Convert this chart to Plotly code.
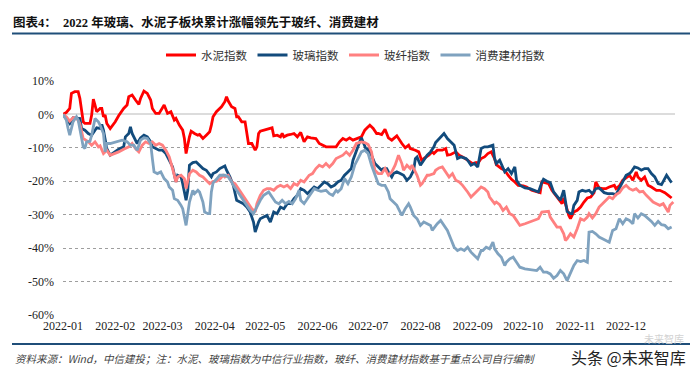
import pandas as pd
import plotly.graph_objects as go

# ---- data (day offset from 2022-01-01, cumulative change in %) ----
cement_days = [0, 2, 4, 5, 7, 9, 10, 12, 13, 16, 17, 18, 19, 20, 22, 23, 24, 25, 26, 28, 31, 33, 36, 38, 39, 41, 43, 45, 46, 48, 50, 52, 53, 55, 57, 59, 60, 62, 64, 66, 67, 69, 71, 72, 73, 75, 76, 78, 80, 81, 83, 85, 87, 88, 89,
               91, 94, 96, 97, 98, 100, 102, 103, 104, 106, 108, 109, 110, 112, 113, 114, 115, 116, 117, 119, 122, 124, 125, 127, 129, 130, 131, 133, 135, 137, 139, 141, 143, 145, 147, 150, 152, 154, 156, 159, 162, 164, 166, 168, 170, 172, 175, 177, 179, 182,
               184, 186, 187, 189, 191, 192, 193, 195, 197, 198, 201, 203, 205, 206, 209, 211, 213, 214, 217, 219, 220, 222, 225, 227, 228, 230, 233, 235, 237, 239, 241, 243, 245, 246, 248, 250, 252, 254, 256, 257, 260, 262, 264, 266, 268, 270, 273, 275,
               278, 281, 283, 284, 286, 288, 290, 291, 293, 295, 296, 297, 299, 300, 301, 303, 305, 307, 309, 311, 313, 315, 316, 318, 320, 322, 324, 327, 328, 330, 332, 334, 336, 338, 340, 341, 343, 345, 347, 349, 352, 354, 357, 359, 361]
cement_vals = [0, 0.6, 1.8, 6.3, 6.8, 6.8, 4.8, -2.2, -2.7, -2.7, -0.2, 4.6, 2.8, 0.8, 1.8, 1.8, -0.7, -0.2, -2.7, -4.2, -2.2, -0.4, 1.8, 2.8, 5.3, 5.8, 4.3, 3.0, 4.8, 7.0, 6.3, 4.3, 1.8, 0.3, 0.3, 1.8, 2.8, 0.3, 0.8, -1.7, -1.2, -3.2, -4.7, -7.2, -11.7, -6.7, -5.0, -5.7, -6.2, -6.0, -7.2, -6.2, -5.2, -3.2, -0.7,
               0.8, 2.3, 3.8, 5.3, 4.0, 2.3, 1.8, -0.7, -0.7, -2.2, -2.2, -5.7, -8.7, -8.7, -9.7, -10.7, -9.7, -5.7, -5.0, -4.7, -4.2, -4.0, -6.4, -6.2, -6.7, -5.7, -6.7, -6.2, -6.0, -5.7, -6.7, -5.4, -8.2, -6.7, -7.0, -7.2, -8.7, -9.2, -9.7, -9.7, -9.7, -8.2, -7.2, -7.7, -7.0, -7.7, -7.2, -6.7, -4.7, -3.2,
               -4.2, -5.7, -5.7, -6.0, -4.4, -5.7, -7.0, -7.7, -6.7, -6.4, -8.7, -10.0, -9.2, -10.2, -10.7, -11.2, -14.2, -13.2, -12.2, -11.2, -11.7, -10.7, -10.7, -10.2, -12.2, -12.0, -11.2, -12.2, -12.7, -13.4, -14.2, -14.7, -14.4, -14.7, -13.2, -12.7, -11.7, -11.2, -13.2, -15.0, -16.2, -16.7, -18.2, -19.4, -20.2, -21.2, -21.4, -21.7,
               -22.7, -23.0, -23.4, -20.2, -20.4, -20.7, -22.7, -23.4, -24.7, -26.2, -26.7, -25.0, -28.7, -30.2, -31.2, -29.2, -28.7, -27.7, -26.2, -25.0, -24.7, -23.4, -20.2, -22.0, -22.2, -22.2, -21.7, -21.2, -22.2, -21.4, -19.7, -19.0, -18.2, -19.7, -17.2, -18.7, -19.7, -18.7, -21.2, -21.7, -22.7, -22.7, -23.4, -24.2, -25.0]

glass_days = [0, 2, 4, 6, 8, 10, 11, 13, 15, 17, 19, 20, 22, 23, 24, 26, 28, 31, 33, 36, 37, 39, 40, 41, 43, 44, 46, 48, 50, 52, 53, 55, 57, 59, 61, 63, 65, 67, 68, 70, 71, 73, 74, 75, 77, 79, 81, 83, 85, 87, 88, 89, 91, 93,
              96, 97, 99, 101, 102, 103, 105, 107, 109, 111, 113, 114, 116, 117, 119, 121, 123, 125, 127, 129, 131, 133, 135, 137, 139, 141, 143, 145, 147, 149, 151, 153, 155, 157, 159, 161, 163, 165, 167, 169, 171, 172, 174, 176, 177, 179, 180, 181,
              183, 185, 187, 189, 190, 192, 193, 195, 196, 198, 200, 202, 204, 206, 208, 209, 210, 212, 214, 216, 218, 220, 221, 223, 226, 228, 230, 232, 233, 234, 236, 239, 240, 242, 244, 246, 248, 250, 252, 255, 256, 257, 259, 261, 262, 264, 266, 268, 269, 271,
              274, 277, 280, 282, 284, 285, 287, 289, 291, 293, 295, 297, 298, 299, 301, 302, 303, 305, 306, 308, 310, 312, 314, 316, 318, 321, 323, 326, 328, 330, 332, 334, 336, 337, 339, 341, 343, 345, 347, 349, 351, 353, 355, 357, 358, 360, 361]
glass_vals = [0, -1.2, -2.7, -1.0, -1.0, -1.2, -4.2, -4.7, -5.7, -6.2, -4.7, -4.0, -4.2, -3.0, -4.7, -10.2, -12.2, -11.2, -10.4, -9.7, -6.7, -5.7, -3.7, -5.7, -7.7, -8.7, -7.0, -6.2, -6.7, -8.2, -9.7, -10.2, -10.7, -10.7, -11.7, -13.7, -15.7, -20.2, -18.2, -18.7, -20.7, -25.7, -22.7, -15.2, -14.4, -14.2, -15.2, -16.2, -16.7, -18.2, -18.7, -17.7, -17.2, -16.2,
              -15.4, -16.7, -18.7, -21.2, -23.7, -25.7, -26.2, -26.7, -27.7, -29.2, -32.2, -35.2, -32.2, -31.2, -30.7, -30.2, -32.2, -29.2, -29.7, -27.7, -28.2, -26.7, -26.7, -25.2, -24.2, -22.2, -22.7, -23.7, -22.7, -21.7, -22.2, -21.2, -20.2, -20.7, -21.7, -21.2, -20.2, -19.7, -18.2, -17.2, -16.2, -13.7, -10.7, -8.2, -7.0, -9.2, -10.7, -10.2,
              -12.2, -14.7, -15.7, -16.7, -16.2, -16.2, -17.2, -18.7, -17.7, -17.2, -17.7, -18.2, -19.7, -18.7, -16.7, -13.2, -12.7, -15.2, -13.7, -12.2, -11.2, -9.7, -8.4, -7.2, -5.7, -7.2, -8.2, -9.2, -11.2, -13.2, -12.7, -13.2, -13.7, -15.2, -14.7, -15.7, -10.2, -9.7, -9.7, -9.2, -13.2, -14.7, -13.7, -16.2, -17.2, -16.2, -17.7, -15.7, -19.7, -21.2,
              -22.0, -22.2, -22.7, -23.2, -20.4, -19.4, -20.0, -20.4, -23.2, -24.4, -25.7, -22.7, -26.2, -29.0, -29.7, -29.7, -27.2, -25.7, -23.2, -22.7, -23.0, -22.7, -23.7, -22.2, -22.0, -23.4, -23.7, -23.7, -24.0, -22.2, -20.2, -18.2, -17.7, -17.2, -15.7, -16.0, -16.7, -16.2, -16.2, -17.7, -18.7, -20.7, -21.0, -19.4, -18.2, -19.7, -20.4]

fiber_days = [0, 2, 4, 6, 8, 10, 12, 15, 17, 19, 21, 22, 24, 26, 28, 31, 33, 36, 39, 41, 43, 45, 47, 49, 51, 53, 55, 57, 59, 61, 63, 65, 67, 68, 70, 72, 73, 75, 77, 79, 81, 83, 85, 87, 89, 91, 93,
              95, 96, 98, 100, 102, 104, 106, 108, 110, 112, 114, 115, 117, 119, 121, 123, 125, 127, 129, 131, 133, 135, 137, 139, 141, 143, 146, 148, 150, 152, 154, 156, 158, 160, 162, 164, 166, 168, 170, 172, 174, 177, 179, 181, 183, 184, 185,
              187, 189, 191, 193, 195, 197, 199, 201, 202, 204, 206, 207, 210, 212, 213, 216, 217, 220, 221, 223, 225, 227, 229, 231, 233, 235, 237, 240, 242, 244, 246, 248, 250, 252, 253, 256, 257, 259, 261, 263, 265, 267, 269, 271, 274,
              277, 279, 282, 284, 286, 288, 289, 291, 293, 295, 297, 298, 299, 301, 303, 305, 307, 309, 311, 312, 314, 316, 318, 320, 322, 324, 326, 328, 330, 332, 334, 336, 338, 340, 342, 344, 346, 348, 350, 352, 354, 356, 358, 359, 360, 362]
fiber_vals = [0, -0.7, -2.0, -1.0, -1.0, -2.7, -7.2, -8.2, -9.2, -8.2, -9.7, -9.4, -11.7, -10.7, -12.2, -11.7, -11.2, -10.4, -9.7, -8.7, -10.2, -11.2, -9.2, -8.2, -8.7, -8.2, -9.2, -8.7, -9.2, -10.7, -12.7, -16.2, -20.2, -18.7, -18.2, -19.2, -22.2, -17.7, -16.7, -17.2, -18.2, -18.7, -19.7, -20.7, -20.0, -20.0, -19.4,
              -18.2, -18.7, -18.2, -20.2, -20.7, -22.2, -23.7, -25.2, -26.7, -28.2, -29.2, -26.7, -24.2, -22.7, -22.2, -22.2, -22.7, -21.7, -21.2, -21.7, -21.2, -22.2, -20.7, -21.2, -19.7, -20.2, -18.2, -17.7, -16.2, -15.2, -15.7, -14.7, -15.7, -14.7, -13.2, -12.7, -12.2, -11.2, -12.2, -10.7, -8.7, -8.2, -8.4, -9.0, -11.2, -14.2, -16.7,
              -17.7, -17.7, -16.2, -18.2, -17.2, -15.2, -12.2, -14.7, -16.7, -15.2, -16.2, -15.2, -18.2, -21.2, -20.7, -18.2, -18.2, -17.7, -16.7, -16.0, -15.7, -17.2, -18.7, -17.7, -19.7, -20.2, -21.2, -23.2, -24.7, -23.7, -22.7, -21.7, -22.2, -23.2, -24.7, -26.7, -26.2, -27.0, -28.7, -27.7, -29.7, -30.2, -31.7, -33.2, -32.7,
              -32.2, -31.7, -31.2, -29.2, -29.0, -29.0, -30.7, -32.2, -33.7, -33.7, -35.7, -37.7, -37.2, -35.7, -36.7, -34.2, -31.2, -31.7, -30.7, -29.7, -31.0, -29.7, -27.7, -26.7, -25.7, -24.7, -25.2, -24.0, -23.4, -22.0, -21.2, -22.2, -22.7, -22.2, -23.2, -23.0, -24.2, -25.2, -26.2, -26.7, -27.2, -26.7, -28.2, -29.2, -27.2, -26.2]

consumer_days = [0, 2, 3, 4, 6, 8, 9, 10, 12, 13, 14, 16, 17, 19, 21, 22, 24, 25, 26, 28, 31, 35, 38, 40, 42, 44, 46, 48, 50, 52, 53, 54, 56, 58, 60, 62, 63, 65, 66, 68, 70, 71, 73, 74, 75, 77, 78, 80, 81, 83, 84, 86, 87, 88, 89, 91, 93,
                 96, 98, 100, 101, 103, 105, 108, 111, 113, 115, 117, 119, 122, 124, 126, 128, 130, 132, 134, 136, 138, 140, 141, 143, 145, 147, 149, 151, 153, 156, 158, 160, 162, 163, 165, 167, 169, 171, 173, 175, 177, 179, 181,
                 183, 184, 186, 187, 189, 191, 193, 194, 196, 198, 200, 201, 203, 205, 206, 208, 210, 212, 214, 216, 218, 219, 221, 222, 224, 226, 228, 230, 232, 234, 236, 238, 240, 242, 244, 246, 248, 249, 251, 253, 255, 256, 258, 260, 262, 263, 265, 267, 269, 271, 274,
                 277, 281, 283, 285, 287, 289, 291, 293, 295, 297, 299, 301, 303, 305, 307, 309, 311, 312, 314, 316, 318, 320, 322, 324, 326, 328, 330, 332, 334, 336, 338, 339, 341, 343, 345, 347, 349, 351, 353, 355, 357, 359, 361]
consumer_vals = [0, -1.7, -4.2, -6.2, -2.2, -0.7, -1.7, -4.2, -9.7, -10.2, -8.2, -8.0, -6.2, -1.2, -2.2, -3.2, -5.7, -11.2, -8.7, -8.7, -8.2, -7.7, -8.2, -9.2, -9.2, -10.7, -7.7, -7.0, -7.2, -8.7, -13.2, -17.2, -17.7, -17.2, -19.2, -20.2, -21.7, -22.7, -25.2, -25.7, -27.2, -28.2, -33.2, -30.2, -26.2, -22.7, -23.7, -22.7, -23.2, -26.2, -29.2, -29.7, -29.7, -23.2, -20.5, -19.4, -18.2,
                 -18.2, -18.7, -20.2, -21.2, -22.7, -24.2, -26.7, -28.7, -29.7, -27.7, -25.7, -24.2, -23.2, -24.7, -26.2, -26.7, -25.7, -26.7, -26.0, -26.7, -25.2, -22.7, -25.7, -26.7, -25.2, -23.7, -22.2, -22.7, -23.0, -22.7, -23.7, -24.2, -22.7, -23.2, -22.2, -19.2, -20.7, -18.7, -15.2, -13.2, -11.2, -10.7, -11.7,
                 -15.2, -16.7, -19.2, -20.7, -21.2, -21.2, -23.2, -25.2, -26.2, -27.2, -29.2, -30.2, -28.2, -26.7, -27.7, -30.2, -31.2, -33.2, -32.2, -32.7, -33.2, -34.7, -33.2, -32.7, -31.7, -33.2, -34.7, -37.2, -39.7, -40.7, -40.2, -40.7, -39.7, -41.2, -42.2, -43.2, -40.7, -40.7, -39.7, -40.2, -38.2, -40.2, -41.7, -42.7, -45.2, -44.2, -43.2, -42.7, -44.2, -45.7, -46.2,
                 -46.4, -46.7, -45.7, -47.2, -47.2, -47.7, -49.0, -48.2, -46.7, -47.7, -49.7, -47.7, -45.2, -43.7, -44.0, -43.7, -44.2, -35.2, -35.0, -35.7, -36.7, -37.2, -37.7, -38.2, -34.7, -34.2, -31.2, -32.7, -31.2, -31.7, -32.7, -29.7, -31.0, -29.7, -30.2, -31.0, -32.0, -33.2, -32.0, -33.0, -33.2, -34.2, -33.7]

series_names = ["水泥指数", "玻璃指数", "玻纤指数", "消费建材指数"]
series_colors = ["#FF0000", "#124B7C", "#FF8080", "#7FA2BF"]
series_days = [cement_days, glass_days, fiber_days, consumer_days]
series_vals = [cement_vals, glass_vals, fiber_vals, consumer_vals]

y_ticks = [-60, -50, -40, -30, -20, -10, 0, 10]
y_tick_labels = ["-60%", "-50%", "-40%", "-30%", "-20%", "-10%", "0%", "10%"]

title_text = "<b>图表4：  2022 年玻璃、水泥子板块累计涨幅领先于玻纤、消费建材</b>"
source_text = "资料来源：Wind，中信建投；注：水泥、玻璃指数为中信行业指数，玻纤、消费建材指数基于重点公司自行编制"

base = pd.Timestamp("2022-01-01")
FONT = "Liberation Serif, Noto Sans CJK SC, serif"

fig = go.Figure()
for name, color, days, vals in zip(series_names, series_colors, series_days, series_vals):
    dates = base + pd.to_timedelta(days, unit="D")
    fig.add_trace(go.Scatter(x=dates, y=vals, mode="lines", name=name,
                             line=dict(color=color, width=2.8)))

# plot area: x 63..675, y 81..315 (px)
L, R, T, B = 63, 675, 81, 315
W, H = R - L, B - T


def px_x(x):
    return (x - L) / W


def px_y(y):
    return (B - y) / H


fig.update_layout(
    width=700, height=376,
    margin=dict(l=L, r=700 - R, t=T, b=376 - B, autoexpand=False),
    paper_bgcolor="white", plot_bgcolor="white",
    font=dict(family=FONT, size=12, color="#222222"),
    showlegend=True,
    legend=dict(orientation="h", xref="container", yref="container",
                x=161 / 700, y=1 - 55 / 376, xanchor="left", yanchor="middle",
                font=dict(family="Noto Sans CJK SC", size=11.5, color="#333333"),
                itemwidth=30, bgcolor="rgba(0,0,0,0)"),
    title=dict(text=title_text, xref="container", yref="container",
               x=13 / 700, y=1 - 22.5 / 376, xanchor="left", yanchor="middle",
               font=dict(family=FONT, size=12.5, color="#111111")),
    xaxis=dict(type="date", range=["2022-01-01", "2022-12-30"],
               tickformat="%Y-%m", dtick="M1", tick0="2022-01-01",
               showgrid=False, zeroline=False, showline=False, ticks="",
               tickfont=dict(family="Liberation Serif", size=12, color="#222222"),
               ticklabelstandoff=2),
    yaxis=dict(range=[-60, 10], tickmode="array", tickvals=y_ticks, ticktext=y_tick_labels,
               showgrid=True, gridcolor="#9E9E9E", griddash="dot", gridwidth=1.2,
               zeroline=True, zerolinecolor="#DCDCDC", zerolinewidth=2,
               showline=False, ticks="",
               tickfont=dict(family="Liberation Serif", size=12, color="#222222"),
               ticklabelstandoff=8),
    hovermode=False,
)

# header / footer rules
fig.add_shape(type="line", xref="paper", yref="paper",
              x0=px_x(12), x1=px_x(690), y0=px_y(33.5), y1=px_y(33.5),
              line=dict(color="#1F4E79", width=2.2))
fig.add_shape(type="line", xref="paper", yref="paper",
              x0=px_x(12), x1=px_x(690), y0=px_y(344), y1=px_y(344),
              line=dict(color="#1F4E79", width=2.2))

fig.add_annotation(text=source_text, xref="paper", yref="paper",
                   x=px_x(13), y=px_y(358), xanchor="left", yanchor="middle",
                   showarrow=False,
                   font=dict(family="Noto Sans CJK SC", size=10.5, color="#444444", style="italic"))
fig.add_annotation(text="未来智库", xref="paper", yref="paper",
                   x=px_x(664), y=px_y(338.5), xanchor="center", yanchor="middle",
                   showarrow=False,
                   font=dict(family="Noto Sans CJK SC", size=10, color="#D2D2D2"))
fig.add_annotation(text="头条 @未来智库", xref="paper", yref="paper",
                   x=px_x(688), y=px_y(357), xanchor="right", yanchor="middle",
                   showarrow=False,
                   font=dict(family="Noto Sans CJK SC", size=16, color="#222222"))

fig.write_html("out.html", config={"displayModeBar": False},
               post_script="document.body.style.margin='0';document.body.style.overflow='hidden';")
